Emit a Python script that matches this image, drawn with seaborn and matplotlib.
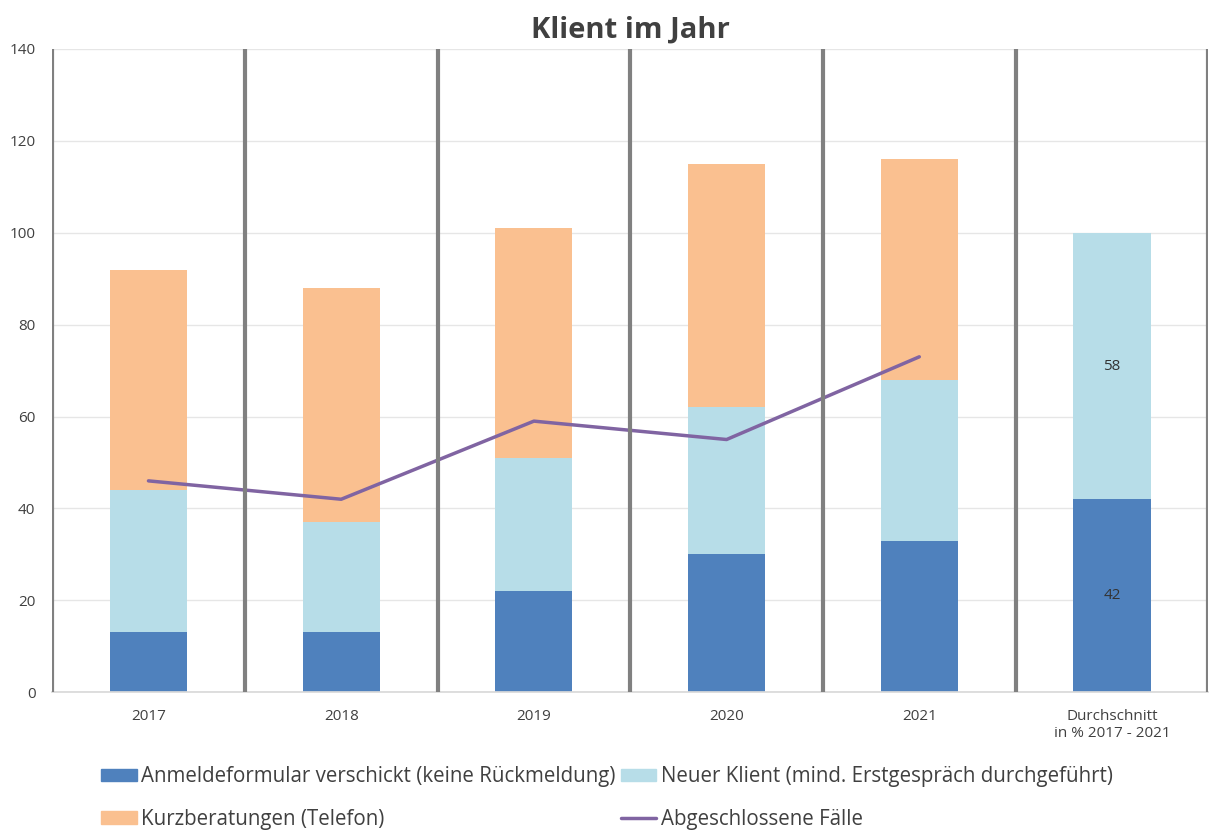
import seaborn as sns
import pandas as pd
import numpy as np
import matplotlib.pyplot as plt
from matplotlib.patches import Patch
from matplotlib.lines import Line2D

# Data
categories = ["2017", "2018", "2019", "2020", "2021", "Durchschnitt\nin % 2017 - 2021"]
anmeldung = [13, 13, 22, 30, 33, 42]
neuer_klient = [31, 24, 29, 32, 35, 58]
kurzberatung = [48, 51, 50, 53, 48, 0]
abgeschlossen = [46, 42, 59, 55, 73]
avg_labels = ["42", "58"]

names = ["Anmeldeformular verschickt (keine Rückmeldung)",
         "Neuer Klient (mind. Erstgespräch durchgeführt)",
         "Kurzberatungen (Telefon)",
         "Abgeschlossene Fälle"]
colors = ["#4F81BD", "#B7DDE8", "#FAC090", "#8064A2"]

sns.set_theme(style="white")
plt.rcParams['font.family'] = ['Open Sans', 'DejaVu Sans']

fig, ax = plt.subplots(figsize=(12.12, 8.3), dpi=100)
fig.subplots_adjust(left=0.043, right=0.997, top=0.941, bottom=0.166)

df = pd.DataFrame({"cat": categories, "a": anmeldung, "n": neuer_klient, "k": kurzberatung})
bottom1 = np.array(anmeldung)
bottom2 = bottom1 + np.array(neuer_klient)

bar_kw = dict(width=0.4, saturation=1, linewidth=0, ax=ax)
sns.barplot(data=df, x="cat", y="a", color=colors[0], **bar_kw)
sns.barplot(data=df, x="cat", y="n", bottom=bottom1, color=colors[1], **bar_kw)
sns.barplot(data=df, x="cat", y="k", bottom=bottom2, color=colors[2], **bar_kw)
sns.lineplot(x=np.arange(len(abgeschlossen)), y=abgeschlossen, color=colors[3], linewidth=2.5, ax=ax)

# labels inside the average bar
last = len(categories) - 1
ax.text(last, anmeldung[last] / 2, avg_labels[0], ha="center", va="center", fontsize=11, color="#333333")
ax.text(last, anmeldung[last] + neuer_klient[last] / 2, avg_labels[1], ha="center", va="center",
        fontsize=11, color="#333333")

# group separators
ax.vlines(np.arange(-0.5, len(categories)), 0, 140, color="#808080", linewidth=3, zorder=3)

ax.set_xlim(-0.5, len(categories) - 0.5)
ax.set_ylim(0, 140)
ax.set_yticks(range(0, 141, 20))
ax.yaxis.grid(True, color="#E6E6E6", linewidth=1)
ax.set_axisbelow(True)
ax.set_xlabel("")
ax.set_ylabel("")
for s in ["top", "right", "left"]:
    ax.spines[s].set_visible(False)
ax.spines["bottom"].set_color("#D9D9D9")
ax.tick_params(axis="both", length=0, labelsize=11, labelcolor="#404040")
ax.tick_params(axis="x", pad=12)
ax.tick_params(axis="y", pad=12)

ax.set_title("Klient im Jahr", fontsize=21, fontweight="bold", color="#404040", pad=8)

handles = [Patch(color=colors[0]), Patch(color=colors[2]),
           Patch(color=colors[1]), Line2D([0], [0], color=colors[3], linewidth=2.5)]
labels = [names[0], names[2], names[1], names[3]]
fig.legend(handles, labels, ncol=2, loc="lower left", bbox_to_anchor=(0.068, -0.022),
           frameon=False, fontsize=14.8, handlelength=1.75, handleheight=0.55, handletextpad=0.2,
           columnspacing=0.25, labelspacing=1.05, labelcolor="#404040")

fig.savefig("out.png", dpi=100)
